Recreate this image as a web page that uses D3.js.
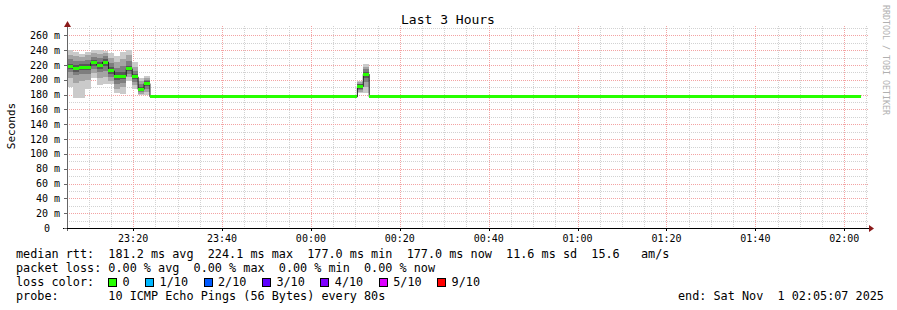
<!DOCTYPE html>
<html>
<head>
<meta charset="utf-8">
<script src="https://cdn.jsdelivr.net/npm/d3@7"></script>
<style>
  body { margin: 0; background: #fff; }
  text { font-family: 'DejaVu Sans Mono', monospace; fill: #000; }
</style>
</head>
<body>
<svg id="smoke"></svg>
<script>
/// data ////////////////////////////////
const startTime = Date.UTC(2025, 9, 31, 23, 5, 7)
const endTime = Date.UTC(2025, 10, 1, 2, 5, 7)
const stepSec = 80

// index of the 80s step where each median value starts
const stepStart = [0, 1, 2, 3, 4, 5, 6, 7, 8, 9, 10, 11, 12, 13, 14, 49, 50, 51]
const lastStep = 134
const median = [218, 215.5, 217, 217, 223, 220, 224, 212, 205, 205, 215, 204, 187, 195, 177, 191, 207.5, 177]

// 10 pings per step (sorted), null = all pings equal to the median
const pings = [
  [190, 203, 210, 215, 217, 219, 222, 228, 234, 240],
  [176, 196, 206, 211, 214, 217, 220, 226, 232, 237],
  [176, 198, 208, 213, 216, 218, 221, 226, 231, 235],
  [187, 200, 208, 213, 216, 218, 221, 227, 233, 237],
  [203, 209, 214, 219, 222, 224, 227, 231, 236, 240],
  [193, 203, 210, 215, 219, 221, 224, 229, 235, 240],
  [195, 204, 212, 219, 223, 225, 228, 232, 236, 239],
  [194, 199, 204, 208, 211, 213, 217, 223, 230, 236],
  [182, 188, 195, 200, 204, 206, 210, 216, 224, 232],
  [181, 190, 196, 201, 204, 206, 211, 219, 228, 237],
  [198, 204, 208, 212, 214, 216, 219, 226, 233, 240],
  [187, 193, 197, 201, 203, 205, 208, 212, 218, 224],
  [179, 181, 183, 185, 186, 188, 190, 194, 199, 203],
  [179, 184, 188, 192, 194, 196, 198, 200, 203, 205],
  null,
  [182, 184, 186, 188, 190, 192, 194, 195, 197, 198],
  [182, 190, 197, 202, 206, 209, 211, 214, 218, 221],
  null
]

const yMax = 270
const yMajor = [0, 20, 40, 60, 80, 100, 120, 140, 160, 180, 200, 220, 240, 260]
const yMinor = [10, 30, 50, 70, 90, 110, 130, 150, 170, 190, 210, 230, 250, 270]

const lossLabels = ['0', '1/10', '2/10', '3/10', '4/10', '5/10', '9/10']
const lossColors = ['#26ff00', '#00b8ff', '#0059ff', '#5e00ff', '#7e00ff', '#dd00ff', '#ff0000']

const legendLines = [
  'median rtt:  181.2 ms avg  224.1 ms max  177.0 ms min  177.0 ms now  11.6 ms sd  15.6   am/s',
  'packet loss: 0.00 % avg  0.00 % max  0.00 % min  0.00 % now',
  'loss color:',
  'probe:       10 ICMP Echo Pings (56 Bytes) every 80s'
]
const endText = 'end: Sat Nov  1 02:05:07 2025'

/// svg ////////////////////////////////
const W = 897
const H = 310
const plot = { left: 67, right: 867, top: 28, bottom: 228 }

const svg = d3.select('#smoke').attr('width', W).attr('height', H)

svg.append('rect').attr('width', W).attr('height', H).attr('fill', '#fff')

/// scales ////////////////////////////////
const xScale = d3.scaleUtc().domain([startTime, endTime]).range([plot.left, plot.right])
const yScale = d3.scaleLinear().domain([0, yMax]).range([plot.bottom, plot.top])
const stepTime = i => startTime + i * stepSec * 1000

/// grid ////////////////////////////////
const grid = svg.append('g').attr('shape-rendering', 'crispEdges')
const minorX = d3.utcMinute.every(5).range(new Date(startTime), new Date(endTime))
const majorX = d3.utcMinute.every(20).range(new Date(startTime), new Date(endTime))

grid.selectAll('.vminor')
  .data(minorX.filter(d => d.getUTCMinutes() % 20 !== 0))
  .enter().append('line')
  .attr('x1', d => Math.round(xScale(d)) + 0.5).attr('x2', d => Math.round(xScale(d)) + 0.5)
  .attr('y1', plot.top - 2).attr('y2', plot.bottom)
  .attr('stroke', '#d2d2d2').attr('stroke-dasharray', '1,1')

grid.selectAll('.hminor')
  .data(yMinor)
  .enter().append('line')
  .attr('x1', plot.left).attr('x2', plot.right + 2)
  .attr('y1', d => Math.round(yScale(d)) + 0.5).attr('y2', d => Math.round(yScale(d)) + 0.5)
  .attr('stroke', '#d2d2d2').attr('stroke-dasharray', '1,1')

grid.selectAll('.vmajor')
  .data(majorX)
  .enter().append('line')
  .attr('x1', d => Math.round(xScale(d)) + 0.5).attr('x2', d => Math.round(xScale(d)) + 0.5)
  .attr('y1', plot.top - 2).attr('y2', plot.bottom)
  .attr('stroke', '#f3a3a3').attr('stroke-dasharray', '1,1')

grid.selectAll('.hmajor')
  .data(yMajor.filter(d => d > 0))
  .enter().append('line')
  .attr('x1', plot.left).attr('x2', plot.right + 2)
  .attr('y1', d => Math.round(yScale(d)) + 0.5).attr('y2', d => Math.round(yScale(d)) + 0.5)
  .attr('stroke', '#f3a3a3').attr('stroke-dasharray', '1,1')

/// smoke ////////////////////////////////
const half = 5
const smokeGrey = d3.range(1, half + 1).map(i => {
  const c = Math.round(190 / half * (half - i)) + 50
  return d3.rgb(c, c, c).formatHex()
})

const smoke = svg.append('g').attr('shape-rendering', 'crispEdges')
stepStart.forEach((s, k) => {
  const p = pings[k]
  if (!p) return
  const x0 = xScale(stepTime(s))
  const x1 = xScale(stepTime(s + 1))
  for (let i = 0; i < half; i++) {
    smoke.append('rect')
      .attr('x', x0).attr('width', x1 - x0)
      .attr('y', yScale(p[p.length - 1 - i]))
      .attr('height', yScale(p[i]) - yScale(p[p.length - 1 - i]))
      .attr('fill', smokeGrey[i])
  }
})

/// median line ////////////////////////////////
const medPoints = stepStart.map((s, k) => [stepTime(s), median[k]])
medPoints.push([stepTime(lastStep), median[median.length - 1]])

svg.append('path')
  .datum(medPoints)
  .attr('d', d3.line().x(d => xScale(d[0])).y(d => yScale(d[1])).curve(d3.curveStepAfter))
  .attr('fill', 'none')
  .attr('stroke', '#202020')
  .attr('stroke-width', 1)

const band = svg.append('g').attr('shape-rendering', 'crispEdges')
stepStart.forEach((s, k) => {
  const x0 = xScale(stepTime(s))
  const x1 = xScale(stepTime(stepStart[k + 1] !== undefined ? stepStart[k + 1] : lastStep))
  band.append('rect')
    .attr('x', x0).attr('width', x1 - x0)
    .attr('y', yScale(median[k]) - 1.5).attr('height', 3)
    .attr('fill', lossColors[0])
})

/// axes ////////////////////////////////
const axis = svg.append('g').attr('shape-rendering', 'crispEdges')
axis.append('line')
  .attr('x1', plot.left + 0.5).attr('x2', plot.left + 0.5)
  .attr('y1', plot.bottom + 3).attr('y2', plot.top - 4)
  .attr('stroke', '#666')
axis.append('line')
  .attr('x1', plot.left - 4).attr('x2', plot.right + 4)
  .attr('y1', plot.bottom + 0.5).attr('y2', plot.bottom + 0.5)
  .attr('stroke', '#000')
  .attr('stroke-width', 1.4)

axis.selectAll('.ytick')
  .data(yMajor)
  .enter().append('line')
  .attr('x1', plot.left - 3).attr('x2', plot.left)
  .attr('y1', d => Math.round(yScale(d)) + 0.5).attr('y2', d => Math.round(yScale(d)) + 0.5)
  .attr('stroke', '#666')

axis.selectAll('.xtick')
  .data(majorX)
  .enter().append('line')
  .attr('x1', d => Math.round(xScale(d)) + 0.5).attr('x2', d => Math.round(xScale(d)) + 0.5)
  .attr('y1', plot.bottom).attr('y2', plot.bottom + 3)
  .attr('stroke', '#000')

// arrows
svg.append('path')
  .attr('d', `M${plot.right + 2},${plot.bottom - 3} L${plot.right + 7},${plot.bottom + 0.5} L${plot.right + 2},${plot.bottom + 4} Z`)
  .attr('fill', '#8b1a1a')
svg.append('path')
  .attr('d', `M${plot.left - 3},${plot.top - 1} L${plot.left + 0.5},${plot.top - 7} L${plot.left + 4},${plot.top - 1} Z`)
  .attr('fill', '#8b1a1a')

/// labels ////////////////////////////////
svg.append('g').selectAll('text')
  .data(yMajor)
  .enter().append('text')
  .attr('x', d => (d === 0 ? 50 : 60))
  .attr('y', d => yScale(d) + 3.5)
  .attr('text-anchor', 'end')
  .attr('font-size', '10px')
  .text(d => (d === 0 ? '0' : d + ' m'))

svg.append('g').selectAll('text')
  .data(majorX)
  .enter().append('text')
  .attr('x', d => xScale(d))
  .attr('y', 242)
  .attr('text-anchor', 'middle')
  .attr('font-size', '10px')
  .text(d3.utcFormat('%H:%M'))

svg.append('text')
  .attr('transform', 'translate(15,126) rotate(-90)')
  .attr('text-anchor', 'middle')
  .attr('font-size', '11px')
  .text('Seconds')

svg.append('text')
  .attr('x', 448).attr('y', 24)
  .attr('text-anchor', 'middle')
  .attr('font-size', '13px')
  .text('Last 3 Hours')

svg.append('text')
  .attr('transform', 'translate(883,5) rotate(90)')
  .attr('font-size', '8.3px')
  .style('fill', '#b0b0b0')
  .text('RRDTOOL / TOBI OETIKER')

/// legend ////////////////////////////////
const legendSize = '11.8px'
const charW = 7.1
legendLines.forEach((line, i) => {
  svg.append('text')
    .attr('x', 16).attr('y', 258 + i * 14)
    .attr('font-size', legendSize)
    .attr('xml:space', 'preserve')
    .style('white-space', 'pre')
    .text(line)
})

let lx = 108
lossLabels.forEach((lab, i) => {
  svg.append('rect')
    .attr('x', lx + 0.5).attr('y', 278.5)
    .attr('width', 8).attr('height', 8)
    .attr('fill', lossColors[i])
    .attr('stroke', '#000')
    .attr('shape-rendering', 'crispEdges')
  svg.append('text')
    .attr('x', lx + 14.5).attr('y', 286)
    .attr('font-size', legendSize)
    .text(lab)
  lx = lx + 14.5 + lab.length * charW + 15.5
})

svg.append('text')
  .attr('x', 678).attr('y', 300)
  .attr('font-size', legendSize)
  .attr('xml:space', 'preserve')
  .style('white-space', 'pre')
  .text(endText)
</script>
</body>
</html>
